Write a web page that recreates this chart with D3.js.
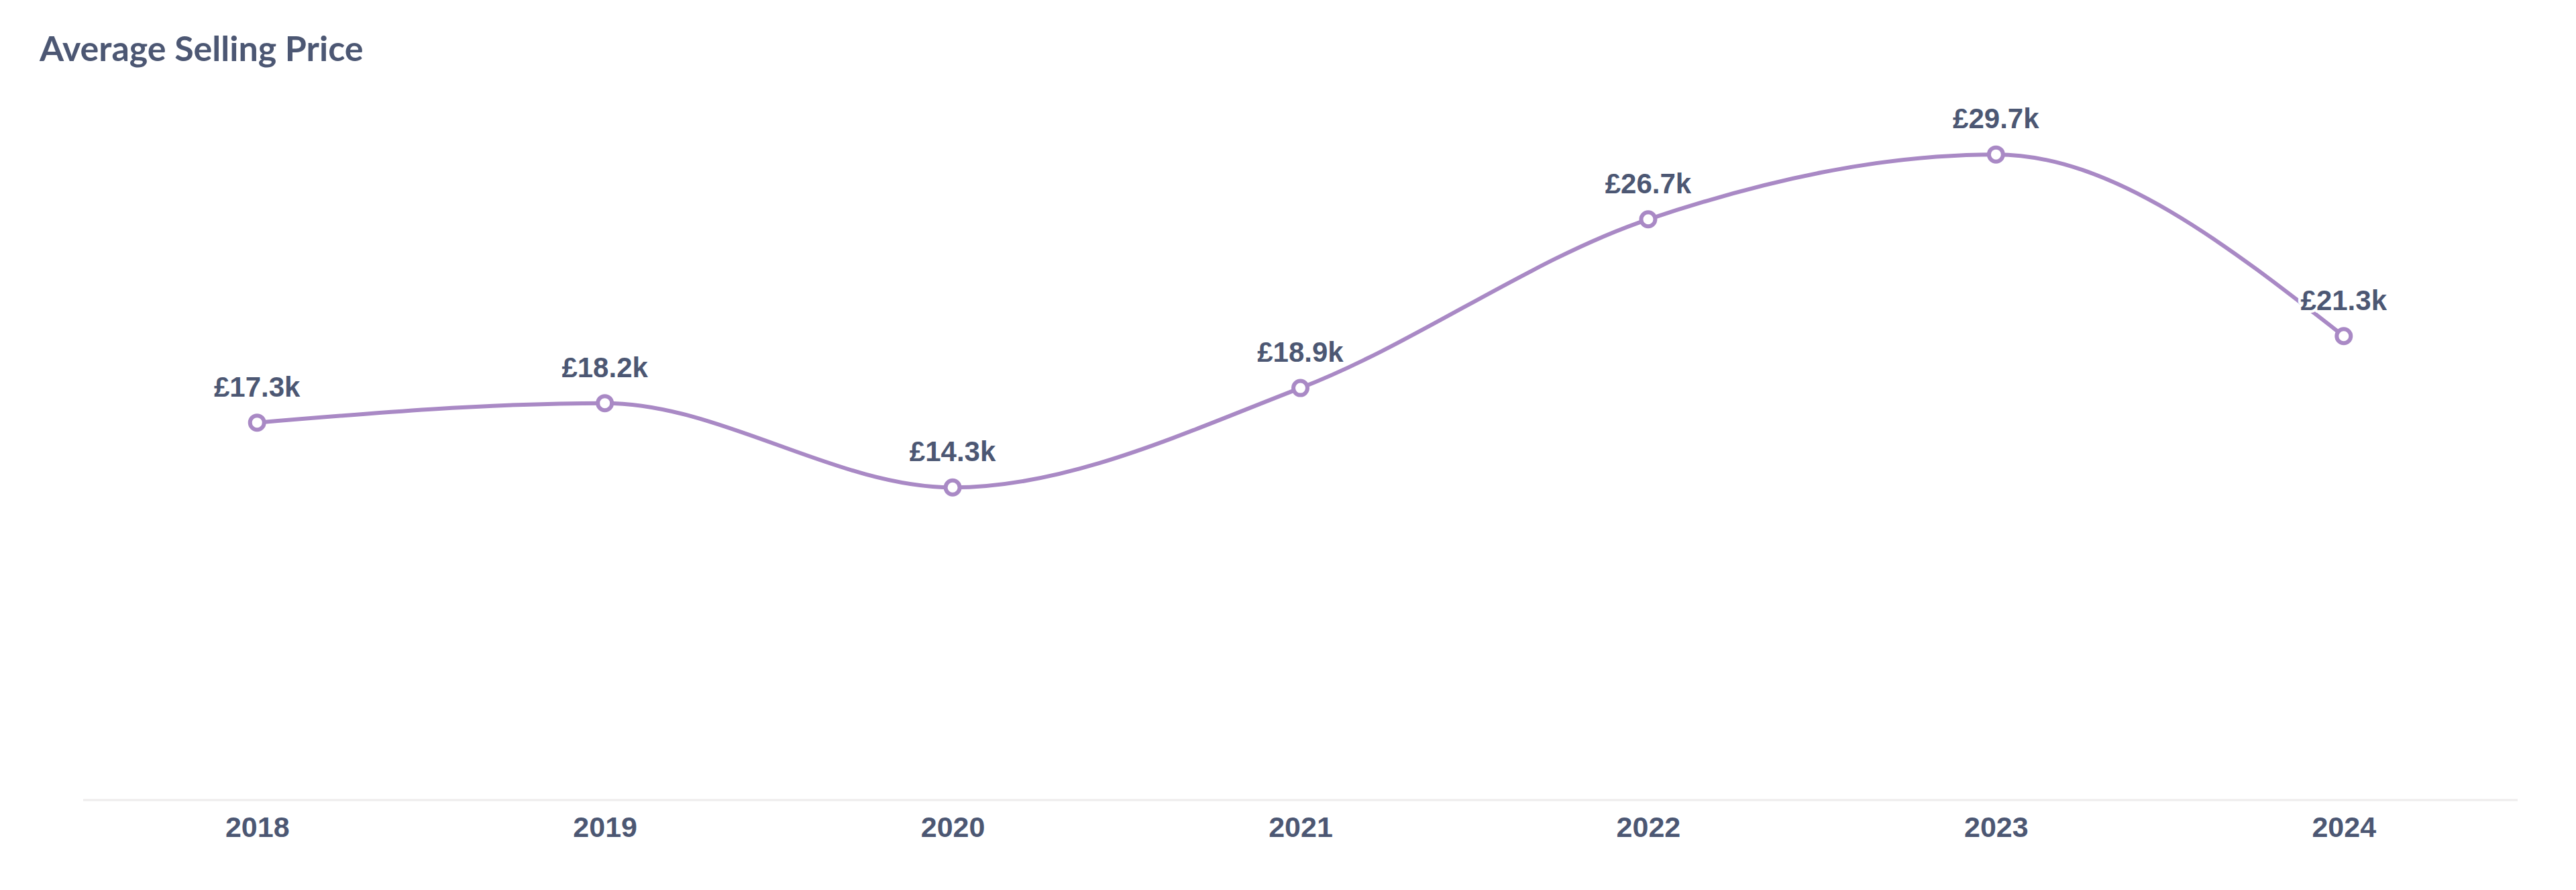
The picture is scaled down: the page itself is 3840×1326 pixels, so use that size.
<!DOCTYPE html>
<html>
<head>
<meta charset="utf-8">
<script src="https://cdn.jsdelivr.net/npm/d3@7"></script>
<style>
  html, body { margin: 0; padding: 0; background: #fff; }
  svg { display: block; }
</style>
</head>
<body>
<svg id="chart" width="3840" height="1326"></svg>
<script>
const title = "Average Selling Price";
const years = ["2018", "2019", "2020", "2021", "2022", "2023", "2024"];
const avgPriceK = [17.3, 18.2, 14.3, 18.9, 26.7, 29.7, 21.3];
const yDomain = [0, 30];

const W = 3840, H = 1326;
const textColor = "#4C5773";
const lineColor = "#A989C5";

const svg = d3.select("#chart");

svg.append("text")
  .attr("x", 59)
  .attr("y", 91)
  .attr("font-family", "Lato, sans-serif")
  .attr("font-weight", 700)
  .attr("font-size", 52)
  .attr("fill", textColor)
  .text(title);

const x = d3.scalePoint()
  .domain(years)
  .range([124, 3753])
  .padding(0.5);

const y = d3.scaleLinear()
  .domain(yDomain)
  .range([1187, 220.5]);

const data = years.map((yr, i) => ({ year: yr, value: avgPriceK[i] }));

// x axis baseline
const axisY = 1192;
const xAxis = d3.axisBottom(x).tickSize(0).tickPadding(0);
const gx = svg.append("g")
  .attr("transform", `translate(0,${axisY})`)
  .call(xAxis);
gx.select(".domain")
  .attr("stroke", "#EEECEC")
  .attr("stroke-width", 3)
  .attr("d", `M124,0H3753`);
gx.selectAll(".tick text")
  .attr("font-family", "'Liberation Sans', Arial, sans-serif")
  .attr("font-weight", 700)
  .attr("font-size", 43)
  .attr("fill", textColor)
  .attr("dy", 0)
  .attr("y", 55);

// line
const line = d3.line()
  .x(d => x(d.year))
  .y(d => y(d.value))
  .curve(d3.curveMonotoneX);

svg.append("path")
  .datum(data)
  .attr("fill", "none")
  .attr("stroke", lineColor)
  .attr("stroke-width", 6)
  .attr("d", line);

// points
svg.append("g")
  .selectAll("circle")
  .data(data)
  .join("circle")
  .attr("cx", d => x(d.year))
  .attr("cy", d => y(d.value))
  .attr("r", 10.5)
  .attr("fill", "#fff")
  .attr("stroke", lineColor)
  .attr("stroke-width", 6);

// labels
svg.append("g")
  .selectAll("text")
  .data(data)
  .join("text")
  .attr("x", d => x(d.year))
  .attr("y", d => y(d.value) - 39)
  .attr("text-anchor", "middle")
  .attr("font-family", "'Liberation Sans', Arial, sans-serif")
  .attr("font-weight", 700)
  .attr("font-size", 42)
  .attr("fill", textColor)
  .attr("stroke", "#fff")
  .attr("stroke-width", 8)
  .attr("stroke-linejoin", "round")
  .attr("paint-order", "stroke")
  .text(d => "£" + d3.format(".1f")(d.value) + "k");
</script>
</body>
</html>
